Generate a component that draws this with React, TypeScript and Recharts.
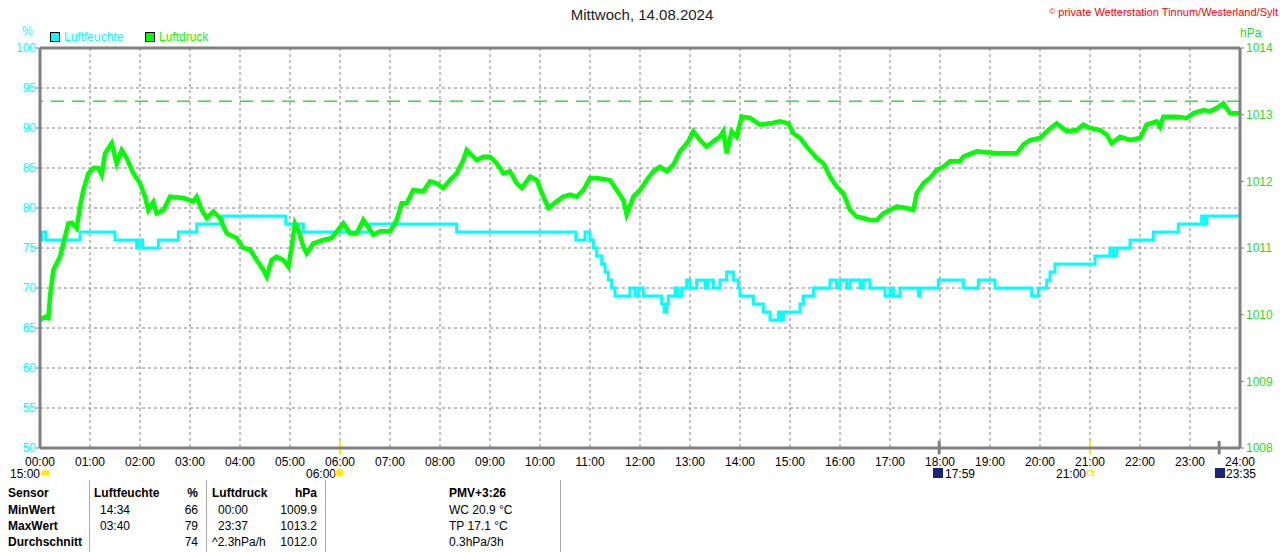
import React from 'react';
import { LineChart, Line, XAxis, YAxis, CartesianGrid, ReferenceLine } from 'recharts';

// minutes since midnight
const hourTicks = [0, 60, 120, 180, 240, 300, 360, 420, 480, 540, 600, 660, 720, 780, 840, 900, 960, 1020, 1080, 1140, 1200, 1260, 1320, 1380, 1440];
const humidityTicks = [50, 55, 60, 65, 70, 75, 80, 85, 90, 95, 100];
const pressureTicks = [1008, 1009, 1010, 1011, 1012, 1013, 1014];

// [minute, %] change points of the stepped humidity trace
const luftfeuchte: [number, number][] = [
  [0, 76], [2, 77], [7, 76], [48, 77], [90, 76], [116, 75], [119, 76], [123, 75], [142, 76], [166, 77],
  [188, 78], [219, 79], [295, 78], [316, 77], [395, 78], [500, 77], [643, 76], [654, 77], [660, 76],
  [664, 75], [668, 74], [674, 73], [678, 72], [682, 71], [686, 70], [690, 69], [708, 70], [714, 69],
  [718, 70], [724, 69], [746, 68], [749, 67], [752, 68], [754, 69], [762, 70], [765, 69], [770, 70],
  [776, 71], [780, 70], [788, 71], [798, 70], [801, 71], [808, 70], [816, 71], [824, 72], [832, 71],
  [838, 70], [840, 69], [856, 68], [868, 67], [876, 66], [886, 67], [889, 66], [892, 67], [912, 68],
  [916, 69], [928, 70], [948, 71], [956, 70], [960, 71], [968, 70], [972, 71], [984, 70], [988, 71],
  [996, 70], [1014, 69], [1020, 70], [1024, 69], [1032, 70], [1054, 69], [1056, 70], [1078, 71],
  [1108, 70], [1126, 71], [1146, 70], [1190, 69], [1198, 70], [1208, 71], [1212, 72], [1218, 73],
  [1266, 74], [1284, 75], [1288, 74], [1292, 75], [1308, 76], [1336, 77], [1366, 78], [1394, 79],
  [1398, 78], [1400, 79], [1440, 79],
];

// [minute, hPa]
const luftdruck: [number, number][] = [
  [0, 1009.92], [6, 1009.97], [10, 1009.95], [12, 1010.27], [16, 1010.67], [24, 1010.87], [28, 1011.07],
  [34, 1011.37], [38, 1011.38], [44, 1011.3], [48, 1011.62], [52, 1011.87], [58, 1012.12], [64, 1012.2],
  [70, 1012.2], [74, 1012.1], [78, 1012.42], [86, 1012.57], [92, 1012.27], [98, 1012.47], [104, 1012.35],
  [112, 1012.12], [120, 1011.97], [126, 1011.77], [130, 1011.57], [136, 1011.69], [140, 1011.52],
  [148, 1011.57], [156, 1011.77], [172, 1011.75], [184, 1011.7], [188, 1011.77], [194, 1011.57],
  [200, 1011.45], [208, 1011.55], [216, 1011.45], [224, 1011.22], [236, 1011.15], [244, 1011.0],
  [252, 1010.98], [260, 1010.82], [268, 1010.67], [272, 1010.57], [278, 1010.82], [284, 1010.87],
  [292, 1010.82], [298, 1010.72], [302, 1011.02], [306, 1011.37], [310, 1011.27], [316, 1011.02],
  [320, 1010.92], [328, 1011.07], [340, 1011.12], [350, 1011.15], [364, 1011.37], [372, 1011.22],
  [380, 1011.22], [388, 1011.42], [400, 1011.2], [408, 1011.25], [420, 1011.25], [428, 1011.42],
  [434, 1011.67], [440, 1011.67], [448, 1011.87], [460, 1011.85], [468, 1012.0], [476, 1011.97],
  [484, 1011.9], [492, 1012.02], [500, 1012.12], [508, 1012.32], [512, 1012.47], [524, 1012.32],
  [532, 1012.37], [540, 1012.37], [548, 1012.27], [556, 1012.12], [564, 1012.15], [572, 1011.97],
  [578, 1011.9], [588, 1012.07], [596, 1012.02], [604, 1011.77], [610, 1011.6], [620, 1011.7],
  [628, 1011.77], [636, 1011.8], [644, 1011.77], [652, 1011.87], [660, 1012.05], [668, 1012.05],
  [684, 1012.02], [692, 1011.87], [700, 1011.72], [704, 1011.5], [710, 1011.7], [712, 1011.77],
  [720, 1011.87], [728, 1012.02], [736, 1012.15], [744, 1012.22], [752, 1012.15], [760, 1012.25],
  [768, 1012.45], [778, 1012.6], [784, 1012.75], [792, 1012.62], [800, 1012.52], [808, 1012.6],
  [816, 1012.67], [820, 1012.75], [824, 1012.42], [830, 1012.75], [836, 1012.67], [842, 1012.97],
  [852, 1012.95], [864, 1012.85], [876, 1012.87], [888, 1012.9], [898, 1012.87], [904, 1012.72],
  [912, 1012.65], [920, 1012.52], [932, 1012.35], [940, 1012.27], [948, 1012.07], [956, 1011.92],
  [964, 1011.82], [972, 1011.57], [980, 1011.47], [988, 1011.45], [996, 1011.42], [1004, 1011.42],
  [1012, 1011.52], [1020, 1011.57], [1028, 1011.62], [1040, 1011.6], [1048, 1011.57], [1052, 1011.82],
  [1060, 1011.97], [1068, 1012.05], [1076, 1012.17], [1084, 1012.22], [1092, 1012.3], [1104, 1012.3],
  [1108, 1012.37], [1124, 1012.45], [1148, 1012.42], [1172, 1012.42], [1180, 1012.55], [1188, 1012.62],
  [1200, 1012.65], [1208, 1012.75], [1220, 1012.87], [1232, 1012.75], [1244, 1012.77], [1252, 1012.85],
  [1260, 1012.8], [1272, 1012.77], [1280, 1012.7], [1286, 1012.57], [1296, 1012.67], [1308, 1012.62],
  [1320, 1012.65], [1328, 1012.85], [1340, 1012.9], [1344, 1012.82], [1348, 1012.97], [1364, 1012.97],
  [1376, 1012.95], [1384, 1013.02], [1396, 1013.07], [1404, 1013.05], [1412, 1013.1], [1420, 1013.17],
  [1428, 1013.02], [1440, 1013.02],
];

const maxDruck = 1013.2;
// sun / moon event marks on the time axis
const sunMarks = [360, 1260];
const moonMarks = [1079, 1415];

const CYAN = '#00ffff';
const GREEN = '#00ff00';
const GREEN_TXT = '#22dd22';
const GRAY = '#808080';
const FONT = '"Liberation Sans", Arial, sans-serif';

const fmtTime = (m: number) => `${String(Math.floor(m / 60)).padStart(2, '0')}:00`;

const abs = (x: number, y: number, extra: React.CSSProperties = {}): React.CSSProperties => ({
  position: 'absolute',
  left: x,
  top: y,
  whiteSpace: 'nowrap',
  lineHeight: '14px',
  ...extra,
});

const tableRows = [
  ['MinWert', '14:34', '66', '00:00', '1009.9', 'WC 20.9 °C'],
  ['MaxWert', '03:40', '79', '23:37', '1013.2', 'TP 17.1 °C'],
  ['Durchschnitt', '', '74', '^2.3hPa/h', '1012.0', '0.3hPa/3h'],
];

export default function App() {
  const humData = luftfeuchte.map(([t, v]) => ({ t, v }));
  const presData = luftdruck.map(([t, v]) => ({ t, v }));

  return (
    <div
      style={{
        position: 'absolute',
        left: 0,
        top: 0,
        width: 1280,
        height: 552,
        background: '#fff',
        fontFamily: FONT,
        fontSize: 12,
        overflow: 'hidden',
      }}
    >
      <div style={abs(0, 7, { width: 1284, textAlign: 'center', fontSize: 15, lineHeight: '16px', color: '#222' })}>
        Mittwoch, 14.08.2024
      </div>
      <div style={abs(1030, 5, { width: 1248, left: 30, textAlign: 'right', color: '#ff0000', fontSize: 11 })}>
        <span style={{ fontSize: 8, verticalAlign: 'top' }}>©</span> private Wetterstation Tinnum/Westerland/Sylt
      </div>
      <div style={abs(22, 24, { color: CYAN })}>%</div>
      <div style={abs(1240, 26, { color: GREEN_TXT })}>hPa</div>

      <div style={abs(50, 32, { width: 8, height: 8, background: CYAN, border: '1px solid #000' })} />
      <div style={abs(64, 30, { color: CYAN })}>Luftfeuchte</div>
      <div style={abs(145, 32, { width: 8, height: 8, background: GREEN, border: '1px solid #000' })} />
      <div style={abs(159, 30, { color: GREEN })}>Luftdruck</div>

      <LineChart
        width={1280}
        height={552}
        margin={{ top: 48, right: 0, bottom: 84, left: 0 }}
        style={{ position: 'absolute', left: 0, top: 0 }}
      >
        <CartesianGrid yAxisId="h" stroke={GRAY} strokeDasharray="3 3" />
        <XAxis
          type="number"
          dataKey="t"
          domain={[0, 1440]}
          ticks={hourTicks}
          tickFormatter={fmtTime}
          interval={0}
          tickLine={false}
          height={20}
          tickMargin={3}
          axisLine={{ stroke: GRAY, strokeWidth: 3 }}
          tick={{ fill: '#000', fontSize: 12, fontFamily: FONT }}
        />
        <YAxis
          yAxisId="h"
          orientation="left"
          width={40}
          domain={[50, 100]}
          ticks={humidityTicks}
          interval={0}
          tickSize={4}
          tickMargin={0}
          tickLine={{ stroke: GRAY }}
          axisLine={{ stroke: GRAY, strokeWidth: 3 }}
          tick={{ fill: CYAN, fontSize: 12, fontFamily: FONT }}
        />
        <YAxis
          yAxisId="p"
          orientation="right"
          width={40}
          domain={[1008, 1014]}
          ticks={pressureTicks}
          interval={0}
          tickSize={4}
          tickMargin={2}
          tickLine={{ stroke: GRAY }}
          axisLine={{ stroke: GRAY, strokeWidth: 3 }}
          tick={{ fill: GREEN_TXT, fontSize: 12, fontFamily: FONT }}
        />
        <ReferenceLine yAxisId="h" y={100} stroke={GRAY} strokeWidth={3} />
        <ReferenceLine yAxisId="p" y={maxDruck} stroke="#33dd33" strokeWidth={1.5} strokeDasharray="13 8" />
        {sunMarks.map((m) => (
          <ReferenceLine
            key={`s${m}`}
            yAxisId="h"
            segment={[{ x: m, y: 50.9 }, { x: m, y: 49.2 }]}
            stroke="#ffee00"
            strokeWidth={2}
            ifOverflow="visible"
          />
        ))}
        {moonMarks.map((m) => (
          <ReferenceLine
            key={`m${m}`}
            yAxisId="h"
            segment={[{ x: m, y: 50.9 }, { x: m, y: 49.2 }]}
            stroke={GRAY}
            strokeWidth={3}
            ifOverflow="visible"
          />
        ))}
        <Line
          yAxisId="h"
          data={humData}
          dataKey="v"
          type="stepAfter"
          stroke={CYAN}
          strokeWidth={3}
          dot={false}
          isAnimationActive={false}
        />
        <Line
          yAxisId="p"
          data={presData}
          dataKey="v"
          type="linear"
          stroke={GREEN}
          strokeWidth={4.5}
          dot={false}
          isAnimationActive={false}
        />
      </LineChart>

      {/* sun / moon events below the axis */}
      <div style={abs(10, 467)}>15:00</div>
      <div style={abs(41, 470, { width: 9, height: 5, background: '#ffee00', borderRadius: '4px 4px 0 0' })} />
      <div style={abs(306, 467)}>06:00</div>
      <div style={abs(336, 469, { width: 7, height: 7, background: '#ffee00', borderRadius: 4, boxShadow: '0 0 2px 1px #ffee88' })} />
      <div style={abs(933, 468, { width: 10, height: 10, background: '#1a237e' })} />
      <div style={abs(945, 467)}>17:59</div>
      <div style={abs(1056, 467)}>21:00</div>
      <div style={abs(1087, 470, { width: 4, height: 4, border: '1px solid #ffee00' })} />
      <div style={abs(1215, 468, { width: 10, height: 10, background: '#1a237e' })} />
      <div style={abs(1226, 467)}>23:35</div>

      {/* statistics table */}
      {[89, 206, 325, 560].map((x) => (
        <div key={x} style={abs(x, 480, { width: 1, height: 72, background: '#aaa' })} />
      ))}
      <div style={abs(8, 486, { fontWeight: 'bold' })}>Sensor</div>
      <div style={abs(94, 486, { fontWeight: 'bold' })}>Luftfeuchte</div>
      <div style={abs(150, 486, { fontWeight: 'bold', width: 48, textAlign: 'right' })}>%</div>
      <div style={abs(212, 486, { fontWeight: 'bold' })}>Luftdruck</div>
      <div style={abs(260, 486, { fontWeight: 'bold', width: 57, textAlign: 'right' })}>hPa</div>
      <div style={abs(449, 486, { fontWeight: 'bold' })}>PMV+3:26</div>
      {tableRows.map((r, i) => {
        const y = 503 + i * 16;
        return (
          <React.Fragment key={r[0]}>
            <div style={abs(8, y, { fontWeight: 'bold' })}>{r[0]}</div>
            <div style={abs(100, y)}>{r[1]}</div>
            <div style={abs(150, y, { width: 48, textAlign: 'right' })}>{r[2]}</div>
            <div style={abs(r[3].startsWith('^') ? 212 : 218, y)}>{r[3]}</div>
            <div style={abs(260, y, { width: 57, textAlign: 'right' })}>{r[4]}</div>
            <div style={abs(449, y)}>{r[5]}</div>
          </React.Fragment>
        );
      })}
    </div>
  );
}
